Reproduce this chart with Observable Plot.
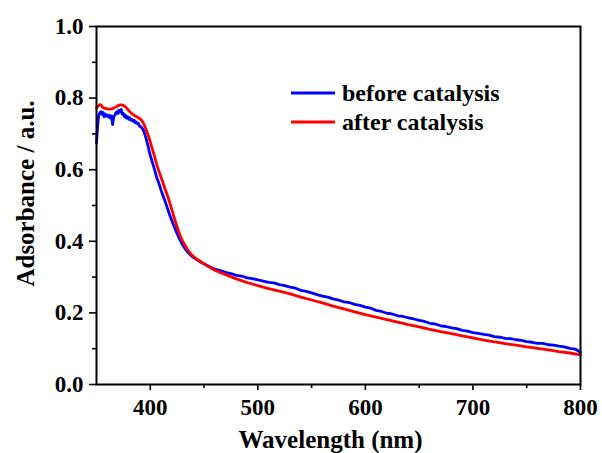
<!DOCTYPE html>
<html>
<head>
<meta charset="utf-8">
<script src="https://cdn.jsdelivr.net/npm/d3@7"></script>
<script src="https://cdn.jsdelivr.net/npm/@observablehq/plot@0.6"></script>
<style>
  body { margin: 0; background: #fff; }
</style>
</head>
<body>
<div id="chart"></div>
<script>
// UV-Vis absorbance spectra of the catalyst before and after the reaction.
const wavelengthBefore = [
  350, 351, 352, 353, 354, 355, 356, 357, 358, 359, 360, 361, 362, 363, 364, 365,
  366, 367, 368, 369, 370, 371, 372, 373, 374, 375, 376, 377, 378, 379, 380, 381,
  382, 383, 384, 385, 386, 387, 388, 389, 390, 391, 392, 393, 394, 395, 396, 397,
  398, 399, 400, 402, 404, 406, 408, 410, 412, 414, 416, 418, 420, 422, 424, 426,
  428, 430, 432, 434, 436, 438, 440, 443, 446, 450, 455, 460, 465, 470, 475, 480,
  485, 490, 495, 500, 505, 510, 515, 520, 525, 530, 535, 540, 545, 550, 555, 560,
  565, 570, 575, 580, 585, 590, 595, 600, 605, 610, 615, 620, 625, 630, 635, 640,
  645, 650, 655, 660, 665, 670, 675, 680, 685, 690, 695, 700, 705, 710, 715, 720,
  725, 730, 735, 740, 745, 750, 755, 760, 765, 770, 775, 780, 785, 790, 795, 800
];
const absorbanceBefore = [
  0.675, 0.720, 0.752, 0.758, 0.762, 0.755, 0.760, 0.748, 0.756, 0.750, 0.753, 0.747, 0.752, 0.744, 0.750, 0.726,
  0.748, 0.752, 0.758, 0.762, 0.757, 0.766, 0.762, 0.768, 0.755, 0.757, 0.748, 0.752, 0.744, 0.748, 0.741, 0.745,
  0.738, 0.740, 0.735, 0.738, 0.731, 0.733, 0.728, 0.729, 0.722, 0.720, 0.718, 0.713, 0.707, 0.698, 0.688, 0.677,
  0.666, 0.652, 0.640, 0.620, 0.600, 0.578, 0.562, 0.543, 0.526, 0.510, 0.492, 0.474, 0.458, 0.443, 0.428, 0.414,
  0.402, 0.391, 0.381, 0.373, 0.366, 0.360, 0.355, 0.349, 0.343, 0.337, 0.329, 0.322, 0.318, 0.313, 0.310, 0.305,
  0.303, 0.298, 0.296, 0.292, 0.289, 0.285, 0.284, 0.279, 0.276, 0.272, 0.269, 0.263, 0.260, 0.256, 0.251, 0.247,
  0.244, 0.239, 0.236, 0.231, 0.229, 0.224, 0.221, 0.216, 0.213, 0.207, 0.204, 0.199, 0.197, 0.192, 0.190, 0.186,
  0.183, 0.179, 0.176, 0.171, 0.169, 0.164, 0.162, 0.158, 0.156, 0.151, 0.149, 0.145, 0.143, 0.140, 0.138, 0.134,
  0.132, 0.129, 0.128, 0.125, 0.123, 0.120, 0.118, 0.115, 0.115, 0.111, 0.110, 0.107, 0.105, 0.101, 0.099, 0.090
];

const wavelengthAfter = [
  350, 351, 352, 353, 354, 355, 356, 357, 358, 360, 362, 364, 366, 368, 370, 372,
  374, 376, 378, 380, 382, 384, 386, 388, 390, 392, 394, 396, 398, 400, 402, 404,
  406, 408, 410, 412, 414, 416, 418, 420, 422, 424, 426, 428, 430, 432, 434, 436,
  438, 440, 443, 446, 450, 455, 460, 470, 480, 490, 500, 510, 520, 530, 540, 550,
  560, 570, 580, 590, 600, 610, 620, 630, 640, 650, 660, 670, 680, 690, 700, 710,
  720, 730, 740, 750, 760, 770, 780, 790, 800
];
const absorbanceAfter = [
  0.772, 0.776, 0.779, 0.782, 0.781, 0.777, 0.774, 0.772, 0.771, 0.770, 0.769, 0.770, 0.772, 0.775, 0.779, 0.781,
  0.781, 0.778, 0.772, 0.765, 0.759, 0.754, 0.750, 0.747, 0.743, 0.738, 0.728, 0.713, 0.697, 0.678, 0.657, 0.637,
  0.614, 0.596, 0.579, 0.562, 0.544, 0.527, 0.509, 0.489, 0.468, 0.449, 0.431, 0.414, 0.401, 0.390, 0.381, 0.371,
  0.364, 0.358, 0.351, 0.345, 0.337, 0.328, 0.319, 0.307, 0.295, 0.285, 0.276, 0.268, 0.261, 0.253, 0.244, 0.236,
  0.228, 0.219, 0.211, 0.203, 0.195, 0.188, 0.181, 0.174, 0.167, 0.161, 0.154, 0.148, 0.142, 0.136, 0.130, 0.124,
  0.119, 0.114, 0.110, 0.105, 0.101, 0.097, 0.092, 0.088, 0.083
];

const seriesNames = ["before catalysis", "after catalysis"];
const seriesColors = ["#0000ff", "#ff0000"];

const xTicks = [400, 500, 600, 700, 800];
const xMinorTicks = [450, 550, 650, 750];
const yTicks = [0.0, 0.2, 0.4, 0.6, 0.8, 1.0];
const yMinorTicks = [0.1, 0.3, 0.5, 0.7, 0.9];

const xTitle = "Wavelength (nm)";
const yTitle = "Adsorbance / a.u.";

const before = wavelengthBefore.map((w, i) => ({w, a: absorbanceBefore[i]}));
const after = wavelengthAfter.map((w, i) => ({w, a: absorbanceAfter[i]}));

const serif = "'Liberation Serif', 'Times New Roman', serif";

const chart = Plot.plot({
  width: 602,
  height: 453,
  marginLeft: 96,
  marginRight: 22,
  marginTop: 26,
  marginBottom: 69,
  style: {fontFamily: serif, fontWeight: "bold", fontSize: "23px", color: "#000", background: "#fff"},
  x: {domain: [350, 800]},
  y: {domain: [0, 1]},
  marks: [
    Plot.axisX(xMinorTicks, {tickSize: 4, strokeWidth: 1.6, tickFormat: () => "", label: null}),
    Plot.axisX(xTicks, {tickSize: 6, strokeWidth: 1.6, tickPadding: 8, tickFormat: d => String(d), label: null}),
    Plot.axisY(yMinorTicks, {tickSize: 4, strokeWidth: 1.6, tickFormat: () => "", label: null}),
    Plot.axisY(yTicks, {tickSize: 7, strokeWidth: 1.6, tickPadding: 6, tickFormat: d3.format(".1f"), label: null}),
    Plot.line(before, {x: "w", y: "a", stroke: seriesColors[0], strokeWidth: 2.8, strokeLinejoin: "round"}),
    Plot.line(after, {x: "w", y: "a", stroke: seriesColors[1], strokeWidth: 2.8, strokeLinejoin: "round"}),
    Plot.frame({stroke: "#000", strokeWidth: 2}),
    Plot.text([xTitle], {text: d => d, frameAnchor: "bottom", textAnchor: "middle", lineAnchor: "bottom", dx: -8, dy: 63, fontSize: 25, fill: "#000"}),
    Plot.text([yTitle], {text: d => d, frameAnchor: "left", textAnchor: "middle", lineAnchor: "middle", rotate: -90, dx: -71, dy: -12, fontSize: 25, fill: "#000"})
  ]
});

// Legend in the upper right of the frame
const svg = d3.select(chart);
const legend = svg.append("g")
  .attr("font-family", serif)
  .attr("font-weight", "bold")
  .attr("font-size", 24)
  .attr("text-anchor", "start");
seriesNames.forEach((name, i) => {
  const y = 93 + i * 29;
  legend.append("line")
    .attr("x1", 291).attr("x2", 335).attr("y1", y).attr("y2", y)
    .attr("stroke", seriesColors[i]).attr("stroke-width", 3);
  legend.append("text")
    .attr("x", 342).attr("y", y).attr("dy", "0.32em")
    .attr("fill", "#000").text(name);
});

document.getElementById("chart").appendChild(chart);
</script>
</body>
</html>
